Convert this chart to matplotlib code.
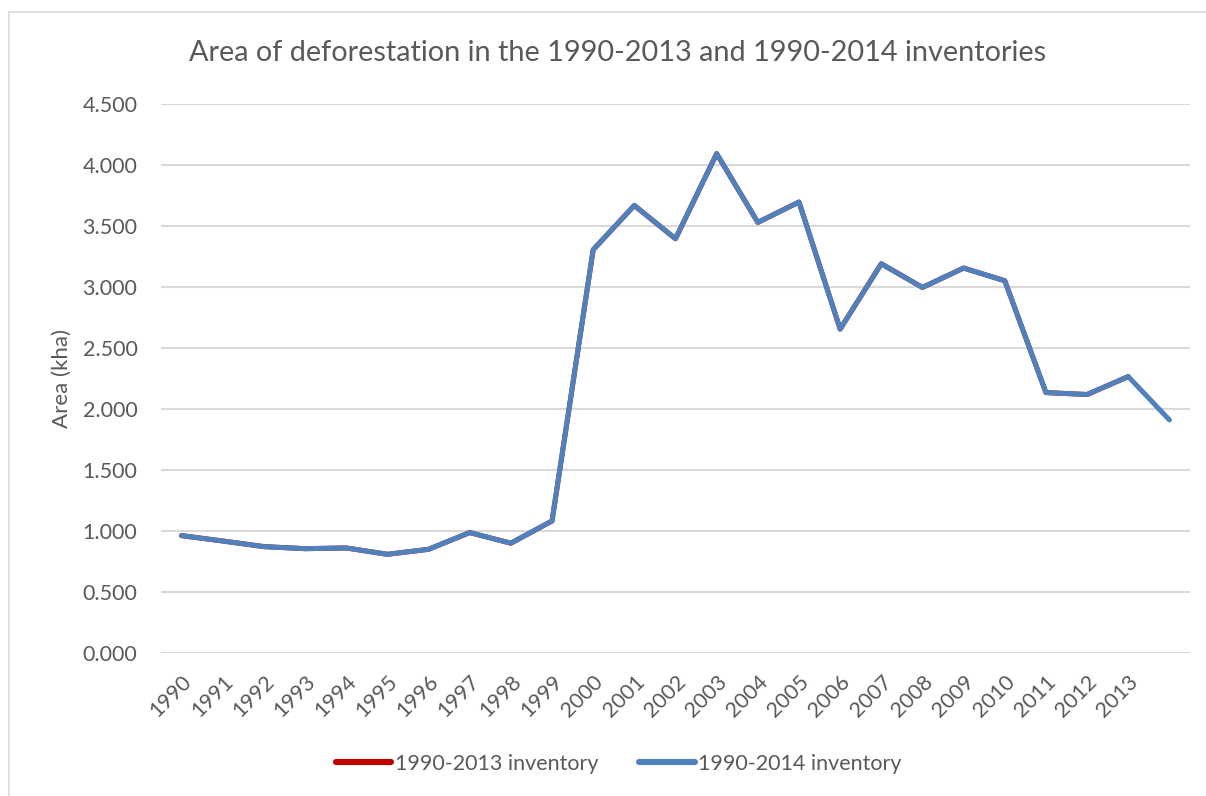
import matplotlib
matplotlib.use("Agg")
import matplotlib.pyplot as plt
from matplotlib.lines import Line2D
from matplotlib.ticker import FuncFormatter

plt.rcParams['font.family'] = ['Lato', 'DejaVu Sans']

# data (kha)
years = list(range(1990, 2015))
tick_labels = [str(y) for y in range(1990, 2014)]
inv_2013 = [0.964, 0.920, 0.874, 0.857, 0.863, 0.811, 0.852, 0.989, 0.902, 1.084,
            3.306, 3.669, 3.396, 4.093, 3.530, 3.697, 2.656, 3.191, 2.997, 3.156,
            3.052, 2.136, 2.120, 2.267]
inv_2014 = [0.964, 0.920, 0.874, 0.857, 0.863, 0.811, 0.852, 0.989, 0.902, 1.084,
            3.306, 3.669, 3.396, 4.093, 3.530, 3.697, 2.656, 3.191, 2.997, 3.156,
            3.052, 2.136, 2.120, 2.267, 1.912]

txt = '#595959'
grid = '#d9d9d9'

fig = plt.figure(figsize=(12.06, 7.96), dpi=100)
ax = fig.add_axes([161 / 1206, 1 - 653.3 / 796, 1029 / 1206, 549.3 / 796])

x13 = list(range(len(inv_2013)))
x14 = list(range(len(inv_2014)))
ax.plot(x13, inv_2013, color='#C00000', lw=3.6, solid_capstyle='round',
        solid_joinstyle='round', label='1990-2013 inventory', zorder=3)
ax.plot(x14, inv_2014, color='#4F81BD', lw=3.6, solid_capstyle='round',
        solid_joinstyle='round', label='1990-2014 inventory', zorder=4)

ax.set_xlim(-0.5, len(years) - 0.5)
ax.set_ylim(0, 4.5)
ax.set_yticks([i * 0.5 for i in range(10)])
ax.yaxis.set_major_formatter(FuncFormatter(lambda v, p: f'{v:.3f}'))
ax.set_xticks(range(len(tick_labels)))
ax.set_xticklabels(tick_labels, rotation=45, ha='right', va='top',
                   rotation_mode='anchor')

ax.grid(axis='y', color=grid, lw=1.5)
ax.set_axisbelow(True)
for s in ax.spines.values():
    s.set_visible(False)
ax.tick_params(axis='both', length=0, colors=txt, labelsize=15.5)
ax.tick_params(axis='y', pad=17)
ax.tick_params(axis='x', pad=13)

ax.set_ylabel('Area (kha)', color=txt, fontsize=16)
ax.yaxis.set_label_coords(-0.0865, 0.5)

fig.text(0.512, 1 - 53 / 796, 'Area of deforestation in the 1990-2013 and 1990-2014 inventories',
         ha='center', va='center', fontsize=20.8, color=txt)

leg = fig.legend(loc='center', bbox_to_anchor=(0.513, 1 - 764 / 796), ncol=2,
                 frameon=False, fontsize=15.5, handlelength=2.6, handletextpad=0.15,
                 columnspacing=1.9, labelcolor=txt)
for h in leg.legend_handles:
    h.set_linewidth(4.4)

# outer chart border (left and top edges visible in the reference)
fig.add_artist(Line2D([9 / 1206, 9 / 1206], [0, 1 - 12 / 796], color=grid, lw=1.2))
fig.add_artist(Line2D([9 / 1206, 1], [1 - 12 / 796, 1 - 12 / 796], color=grid, lw=1.2))

fig.savefig('out.png', dpi=100)
